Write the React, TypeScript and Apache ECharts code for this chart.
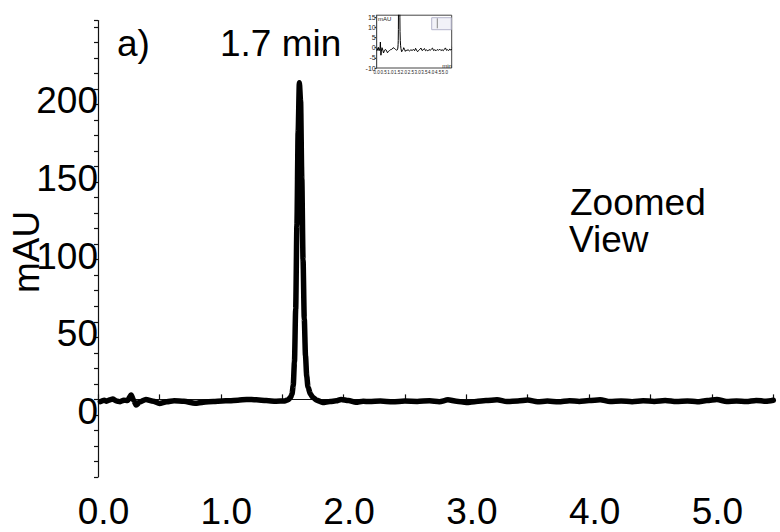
import React, { useEffect, useRef } from "react";
import * as echarts from "echarts";

// Retention time (min)
const time: number[] = [
  0.02, 0.05, 0.07, 0.10, 0.12, 0.15, 0.18, 0.21, 0.24, 0.27, 0.29, 0.31, 0.34, 0.39, 0.45,
  0.50, 0.56, 0.62, 0.70, 0.79, 0.86, 0.94, 1.01, 1.07, 1.14, 1.21, 1.29, 1.37, 1.45, 1.52,
  1.55, 1.57, 1.58, 1.59, 1.60, 1.61, 1.62, 1.63, 1.64, 1.65, 1.66, 1.67, 1.68, 1.69, 1.70,
  1.71, 1.73, 1.75, 1.78, 1.83, 1.89, 1.94, 1.98, 2.04, 2.10, 2.16, 2.21, 2.30, 2.40, 2.50,
  2.60, 2.70, 2.78, 2.85, 2.92, 3.00, 3.08, 3.16, 3.25, 3.33, 3.42, 3.50, 3.58, 3.66, 3.75,
  3.84, 3.92, 4.00, 4.09, 4.17, 4.26, 4.35, 4.44, 4.53, 4.62, 4.71, 4.80, 4.88, 4.96, 5.04,
  5.12, 5.20, 5.28, 5.36, 5.44, 5.50,
];

// Absorbance (mAU)
const mAU: number[] = [
  -1.5, -0.5, -1.2, -0.2, 0.2, -1.0, -1.5, -0.5, -0.8, 2.8, -0.5, -3.7, -1.7, 0.0, -1.2,
  -2.6, -1.5, -0.9, -1.2, -2.5, -1.8, -1.4, -1.0, -0.9, -0.6, 0.0, -0.3, -0.8, -1.2, -1.0,
  -0.2, 1.5, 3.5, 9, 24, 58, 112, 172, 204, 192, 142, 90, 52, 28, 15,
  8, 3.5, 1.2, -0.5, -2.0, -1.4, -0.9, 0.0, -0.8, -1.8, -1.2, -1.4, -1.0, -1.6, -1.1,
  -1.3, -0.9, -1.5, -0.3, -1.2, -2.0, -1.3, -0.8, -0.2, -1.4, -1.0, -0.4, -1.5, -1.1, -1.6,
  -0.9, -1.3, -0.8, -0.2, -1.4, -1.0, -1.5, -0.9, -1.3, -0.7, -1.4, -1.0, -1.5, -0.8, -0.1,
  -1.3, -1.0, -1.4, -0.7, -1.2, -0.6,
];

// Axis settings
const xMin = 0;
const xMax = 5.5;
const xStep = 0.5;
const yMin = -50;
const yMax = 244;
const yStep = 10;
const yLabelStep = 50;

const insetYMin = -10;
const insetYMax = 16;
const insetYStep = 5;

const FONT = '"Liberation Sans", Arial, Helvetica, sans-serif';
const BIG = 37;

export default function App() {
  const ref = useRef<HTMLDivElement>(null);

  useEffect(() => {
    if (!ref.current) return;
    const chart = echarts.init(ref.current, undefined, { renderer: "svg" });
    const data = time.map((t, i) => [t, mAU[i]]);

    const option: any = {
      animation: false,
      backgroundColor: "#fff",
      textStyle: { fontFamily: FONT },
      grid: [
        { left: 98, right: 6.7, top: 20.6, bottom: 55 },
        {
          left: 376.7,
          right: 328.3,
          top: 15.2,
          bottom: 464,
          show: true,
          backgroundColor: "#fff",
          borderColor: "#444",
          borderWidth: 1,
          z: 5,
        },
      ],
      xAxis: [
        {
          type: "value",
          gridIndex: 0,
          min: xMin,
          max: xMax,
          interval: xStep,
          offset: 5,
          splitLine: { show: false },
          axisLine: { lineStyle: { color: "#111", width: 1.2 } },
          axisTick: { inside: true, length: 5, lineStyle: { color: "#111", width: 1.2 } },
          axisLabel: {
            fontSize: BIG,
            fontFamily: FONT,
            color: "#000",
            margin: 11,
            padding: [0, 0, 0, 11],
            formatter: (v: number) =>
              Math.abs(v - Math.round(v)) < 1e-6 && v <= 5 ? v.toFixed(1) : "",
          },
        },
        {
          type: "value",
          gridIndex: 1,
          min: xMin,
          max: xMax,
          interval: xStep,
          splitLine: { show: false },
          axisLine: { lineStyle: { color: "#444", width: 1 } },
          axisTick: { inside: true, length: 2, lineStyle: { color: "#444" } },
          axisLabel: {
            fontSize: 4.5,
            fontFamily: FONT,
            color: "#222",
            margin: 2,
            formatter: (v: number) => (v < 5.5 ? v.toFixed(1) : ""),
          },
        },
      ],
      yAxis: [
        {
          type: "value",
          gridIndex: 0,
          min: yMin,
          max: yMax,
          interval: yStep,
          offset: 3,
          splitLine: { show: false },
          axisLine: { show: true, lineStyle: { color: "#111", width: 1.2 } },
          axisTick: { show: true, length: 4, lineStyle: { color: "#111", width: 1.2 } },
          axisLabel: {
            fontSize: BIG,
            fontFamily: FONT,
            color: "#000",
            margin: -3,
            verticalAlign: "top",
            lineHeight: 24,
            formatter: (v: number) => (v >= 0 && v % yLabelStep === 0 ? String(v) : ""),
          },
        },
        {
          type: "value",
          gridIndex: 1,
          min: insetYMin,
          max: insetYMax,
          interval: insetYStep,
          splitLine: { show: false },
          axisLine: { show: true, lineStyle: { color: "#444", width: 1 } },
          axisTick: { show: true, length: 2, lineStyle: { color: "#444" } },
          axisLabel: {
            fontSize: 7,
            fontFamily: FONT,
            color: "#222",
            margin: 1,
          },
        },
      ],
      series: [
        {
          type: "line",
          xAxisIndex: 0,
          yAxisIndex: 0,
          data,
          showSymbol: false,
          smooth: 0.25,
          smoothMonotone: "x",
          lineStyle: { color: "#000", width: 5.5, cap: "round", join: "round" },
          z: 2,
        },
        {
          type: "line",
          xAxisIndex: 1,
          yAxisIndex: 1,
          data,
          showSymbol: false,
          clip: true,
          lineStyle: { color: "#000", width: 1 },
          z: 6,
        },
      ],
      graphic: [
        {
          type: "text",
          x: 117,
          y: 43,
          style: { text: "a)", font: `${BIG}px ${FONT}`, fill: "#000", align: "left", verticalAlign: "middle" },
        },
        {
          type: "text",
          x: 220,
          y: 43,
          style: { text: "1.7 min", font: `${BIG}px ${FONT}`, fill: "#000", align: "left", verticalAlign: "middle" },
        },
        {
          type: "text",
          x: 570,
          y: 202,
          style: { text: "Zoomed", font: `${BIG}px ${FONT}`, fill: "#000", align: "left", verticalAlign: "middle" },
        },
        {
          type: "text",
          x: 569,
          y: 239,
          style: { text: "View", font: `${BIG}px ${FONT}`, fill: "#000", align: "left", verticalAlign: "middle" },
        },
        {
          type: "text",
          x: 26,
          y: 252,
          rotation: Math.PI / 2,
          style: { text: "mAU", font: `${BIG}px ${FONT}`, fill: "#000", align: "center", verticalAlign: "middle" },
        },
        {
          type: "rect",
          z: 20,
          shape: { x: 431.7, y: 17.7, width: 19.5, height: 12 },
          style: { fill: "#f2f2f8", stroke: "#b4b4cc", lineWidth: 1 },
        },
        {
          type: "line",
          z: 21,
          shape: { x1: 437.3, y1: 18.3, x2: 437.3, y2: 28.3 },
          style: { stroke: "#888", lineWidth: 1 },
        },
        {
          type: "text",
          z: 21,
          x: 378,
          y: 19,
          style: { text: "mAU", font: `6px ${FONT}`, fill: "#222", align: "left", verticalAlign: "middle" },
        },
        {
          type: "text",
          z: 21,
          x: 447,
          y: 66,
          style: { text: "min", font: `6px ${FONT}`, fill: "#222", align: "center", verticalAlign: "middle" },
        },
      ],
    };

    chart.setOption(option);
    return () => chart.dispose();
  }, []);

  return (
    <div
      ref={ref}
      style={{ position: "fixed", left: 0, top: 0, width: 780, height: 532 }}
    />
  );
}
